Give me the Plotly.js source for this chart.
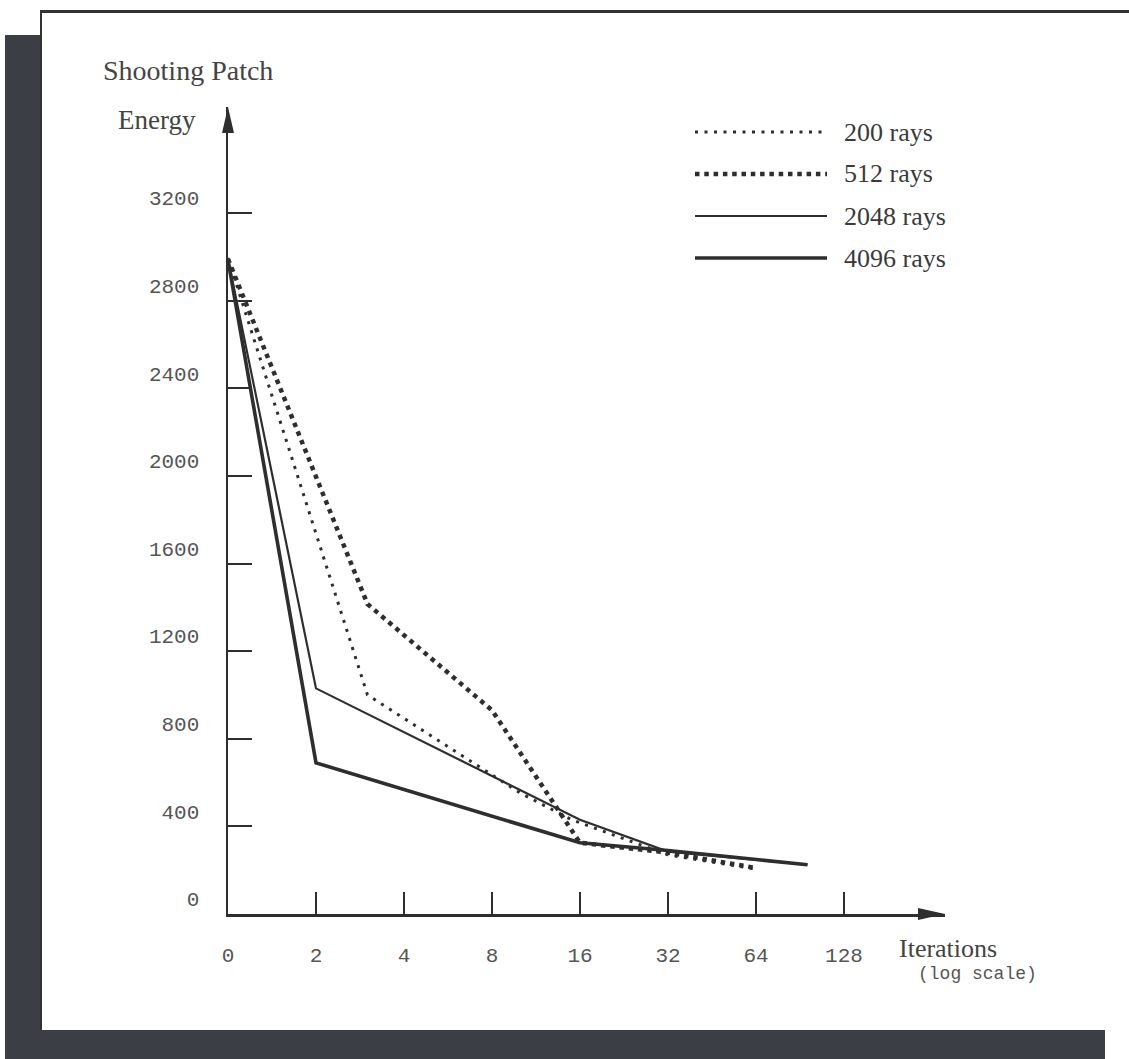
<!DOCTYPE html>
<html>
<head>
<meta charset="utf-8">
<script src="https://cdn.plot.ly/plotly-3.0.1.min.js"></script>
<style>
  html, body { margin:0; padding:0; background:#ffffff; }
  #wrap { position:relative; width:1129px; height:1059px; overflow:hidden; background:#ffffff; }
  .shadowL { position:absolute; left:5px; top:35px; width:40px; height:1024px; background:#3b3e44; }
  .shadowB { position:absolute; left:5px; top:1030px; width:1100px; height:29px; background:#3b3e44; }
  .panel { position:absolute; left:40px; top:10px; width:1089px; height:1020px; background:#ffffff;
           border-top:3px solid #333; border-left:2px solid #333; box-sizing:border-box; }
  #chart { position:absolute; left:0; top:0; width:1129px; height:1059px; }
</style>
</head>
<body>
<div id="wrap">
  <div class="shadowL"></div>
  <div class="shadowB"></div>
  <div class="panel"></div>
  <div id="chart"></div>
</div>
<script>
// ---------------- data ----------------
const seriesNames = ["200 rays", "512 rays", "2048 rays", "4096 rays"];

const iter200  = [1, 3, 10, 15, 32, 64];
const energy200 = [2995, 1000, 552, 430, 270, 205];

const iter512  = [1, 3, 8, 16, 32, 64];
const energy512 = [2990, 1415, 930, 325, 280, 210];

const iter2048  = [1, 2, 16, 32, 96];
const energy2048 = [2990, 1030, 430, 285, 225];

const iter4096  = [1, 2, 16, 32, 96];
const energy4096 = [2985, 690, 325, 290, 225];

const xTickVals = [1, 2, 4, 8, 16, 32, 64, 128];
const xTickText = ["0", "2", "4", "8", "16", "32", "64", "128"];
const yTickVals = [0, 400, 800, 1200, 1600, 2000, 2400, 2800, 3200];

// ---------------- styles ----------------
const ink = "#2e2e2e";
const styles = [
  {width: 3.0, dash: "3px,6.5px"},
  {width: 4.5, dash: "4.5px,4.8px"},
  {width: 2.2, dash: "solid"},
  {width: 3.6, dash: "solid"}
];
const xs = [iter200, iter512, iter2048, iter4096];
const ys = [energy200, energy512, energy2048, energy4096];

// plot area in page pixels
const L = 228, R = 945, T = 107, B = 914;
const W = 1129, H = 1059;
const px = x => (x - L) / (R - L);
const py = y => (B - y) / (B - T);

const traces = seriesNames.map((n, i) => ({
  type: "scatter", mode: "lines", name: n,
  x: xs[i], y: ys[i],
  line: {color: ink, width: styles[i].width, dash: styles[i].dash},
  cliponaxis: false, showlegend: false, hoverinfo: "skip"
}));

// custom legend (long line samples like the original)
const shapes = [];
const annotations = [];
const legTop = 132, legStep = 42;
seriesNames.forEach((n, i) => {
  const yy = py(legTop + i * legStep);
  shapes.push({type: "line", xref: "paper", yref: "paper",
    x0: px(695), x1: px(827), y0: yy, y1: yy,
    line: {color: ink, width: styles[i].width, dash: styles[i].dash}});
  annotations.push({xref: "paper", yref: "paper", x: px(842), y: yy,
    xanchor: "left", yanchor: "middle", showarrow: false, text: n,
    font: {family: "Liberation Serif, Times New Roman, serif", size: 26, color: "#3a3a3a"}});
});

// axis arrow heads
shapes.push({type: "path", xref: "paper", yref: "paper", xsizemode: "pixel", ysizemode: "pixel",
  xanchor: 1, yanchor: 0, path: "M-27,6 L0,0 L-27,-6 Z", fillcolor: ink, line: {width: 0}});
shapes.push({type: "path", xref: "paper", yref: "paper", xsizemode: "pixel", ysizemode: "pixel",
  xanchor: 0, yanchor: 1, path: "M-6,-26 L0,0 L6,-26 Z", fillcolor: ink, line: {width: 0}});

const serif = {family: "Liberation Serif, Times New Roman, serif", size: 27, color: "#444"};
annotations.push({xref: "paper", yref: "paper", x: px(198), y: py(120), xanchor: "right", yanchor: "middle",
  showarrow: false, text: "Energy", font: serif});
annotations.push({xref: "paper", yref: "paper", x: px(897), y: py(948), xanchor: "left", yanchor: "middle",
  showarrow: false, text: "Iterations", font: {family: serif.family, size: 26, color: "#444"}});
annotations.push({xref: "paper", yref: "paper", x: px(916), y: py(974), xanchor: "left", yanchor: "middle",
  showarrow: false, text: "(log scale)", font: {family: "Liberation Mono, Courier New, monospace", size: 18, color: "#555"}});

const mono = {family: "Liberation Mono, Courier New, monospace", size: 21, color: "#555"};

const layout = {
  width: W, height: H,
  margin: {l: L, r: W - R, t: T, b: H - B, pad: 0},
  paper_bgcolor: "rgba(0,0,0,0)", plot_bgcolor: "rgba(0,0,0,0)",
  showlegend: false,
  title: {text: "Shooting Patch", xref: "container", yref: "container",
    x: 103 / W, xanchor: "left", y: 1 - 70 / H, yanchor: "middle", font: {family: serif.family, size: 28, color: "#444"}},
  xaxis: {type: "log", range: [0, Math.log10(2) * (R - L) / 88],
    tickvals: xTickVals, ticktext: xTickText, tickmode: "array",
    ticks: "inside", ticklen: 22, tickwidth: 2, tickcolor: ink,
    showline: true, linewidth: 2.5, linecolor: ink, showgrid: false, zeroline: false,
    tickfont: mono, ticklabelstandoff: 20, fixedrange: true},
  yaxis: {range: [0, (B - T) * 3200 / 701],
    tickvals: yTickVals, tickmode: "array",
    ticks: "inside", ticklen: 24, tickwidth: 2, tickcolor: ink,
    showline: true, linewidth: 2.5, linecolor: ink, showgrid: false, zeroline: false,
    tickfont: mono, ticklabelstandoff: 22, ticklabelshift: -15, fixedrange: true},
  shapes: shapes,
  annotations: annotations
};

Plotly.newPlot("chart", traces, layout, {displayModeBar: false, staticPlot: true});
</script>
</body>
</html>
